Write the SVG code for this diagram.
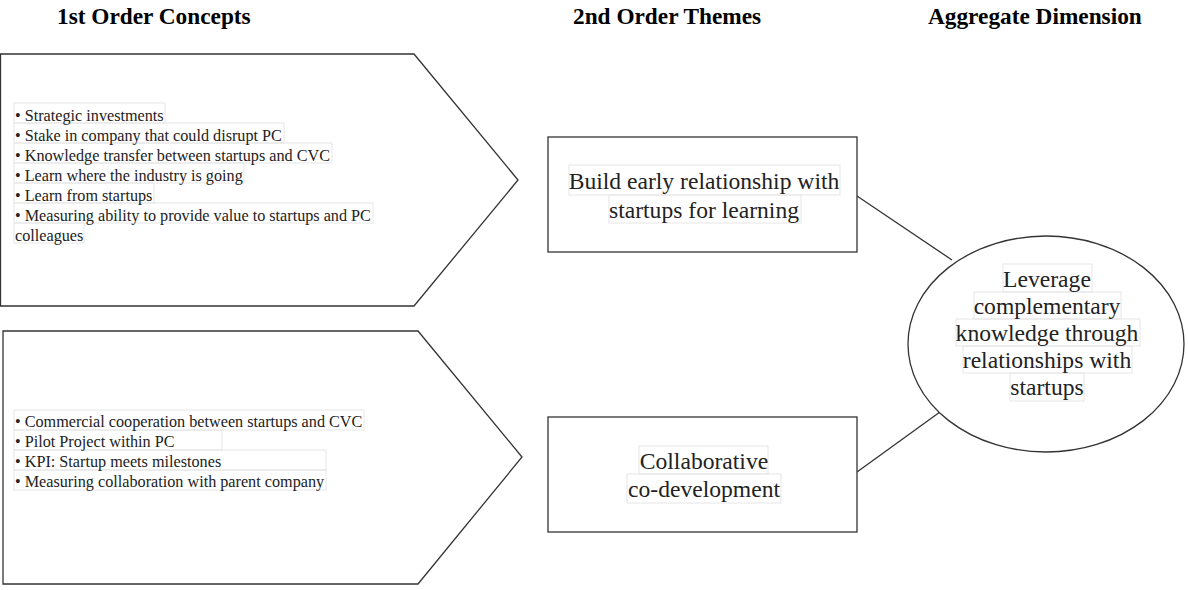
<svg xmlns="http://www.w3.org/2000/svg" width="1188" height="590" viewBox="0 0 1188 590">
  <style>
    .shape { fill: #ffffff; stroke: #333333; stroke-width: 1.3; }
    .edge { stroke: #333333; stroke-width: 1.3; fill: none; }
    .bg { fill: none; stroke: #e6e6e6; stroke-width: 1; }
    .head { font-family: "Liberation Serif", "Times New Roman", serif; font-weight: bold; font-size: 23.3px; fill: #000; }
    .list { font-family: "Liberation Serif", "Times New Roman", serif; font-size: 16.2px; fill: #222; }
    .label { font-family: "Liberation Serif", "Times New Roman", serif; font-size: 23.6px; fill: #222; text-anchor: middle; }
  </style>
  <rect width="1188" height="590" fill="#ffffff"/>

  <!-- column headings -->
  <g id="headings">
    <text class="head" x="57" y="24">1st Order Concepts</text>
    <text class="head" x="573" y="24">2nd Order Themes</text>
    <text class="head" x="928" y="24">Aggregate Dimension</text>
  </g>

  <!-- links from themes to the aggregate dimension -->
  <g id="connectors">
    <line class="edge" x1="857" y1="196" x2="952" y2="260"/>
    <line class="edge" x1="857" y1="472" x2="951" y2="404"/>
  </g>

  <g id="concepts-learning">
    <polygon class="shape" points="0.5,54 414,54 518,180 414,306 0.5,306"/>
    <rect class="bg" x="14" y="103" width="151" height="20"/>
    <rect class="bg" x="14" y="123" width="270" height="20"/>
    <rect class="bg" x="14" y="143" width="318" height="20"/>
    <rect class="bg" x="14" y="163" width="230" height="20"/>
    <rect class="bg" x="14" y="183" width="140" height="20"/>
    <rect class="bg" x="14" y="203" width="359" height="20"/>
    <rect class="bg" x="14" y="223" width="70" height="20"/>
    <text class="list" x="15" y="121">• Strategic investments</text>
    <text class="list" x="15" y="141">• Stake in company that could disrupt PC</text>
    <text class="list" x="15" y="161">• Knowledge transfer between startups and CVC</text>
    <text class="list" x="15" y="181">• Learn where the industry is going</text>
    <text class="list" x="15" y="201">• Learn from startups</text>
    <text class="list" x="15" y="221">• Measuring ability to provide value to startups and PC</text>
    <text class="list" x="15" y="241">colleagues</text>
  </g>

  <g id="concepts-codevelopment">
    <polygon class="shape" points="3,331 418,331 522,457 418,584 3,584"/>
    <rect class="bg" x="14" y="410" width="350" height="20"/>
    <rect class="bg" x="14" y="430" width="208" height="20"/>
    <rect class="bg" x="14" y="450" width="312" height="20"/>
    <rect class="bg" x="14" y="470" width="312" height="20"/>
    <text class="list" x="15" y="427">• Commercial cooperation between startups and CVC</text>
    <text class="list" x="15" y="447">• Pilot Project within PC</text>
    <text class="list" x="15" y="467">• KPI: Startup meets milestones</text>
    <text class="list" x="15" y="487">• Measuring collaboration with parent company</text>
  </g>

  <g id="theme-learning">
    <rect class="shape" x="548" y="137" width="309" height="115"/>
    <rect class="bg" x="569" y="165" width="271" height="30"/>
    <rect class="bg" x="609" y="195" width="192" height="28"/>
    <text class="label" x="704" y="189">Build early relationship with</text>
    <text class="label" x="704" y="218">startups for learning</text>
  </g>

  <g id="theme-codevelopment">
    <rect class="shape" x="548" y="417" width="309" height="115"/>
    <rect class="bg" x="639" y="446" width="129" height="28"/>
    <rect class="bg" x="627" y="474" width="154" height="29"/>
    <text class="label" x="704" y="469">Collaborative</text>
    <text class="label" x="704" y="497">co-development</text>
  </g>

  <g id="aggregate">
    <ellipse class="shape" cx="1046" cy="344" rx="138" ry="108"/>
    <rect class="bg" x="1003" y="264" width="89" height="28"/>
    <rect class="bg" x="974" y="292" width="147" height="27"/>
    <rect class="bg" x="956" y="319" width="184" height="27"/>
    <rect class="bg" x="963" y="346" width="169" height="27"/>
    <rect class="bg" x="1010" y="373" width="74" height="28"/>
    <text class="label" x="1047" y="287">Leverage</text>
    <text class="label" x="1047" y="314">complementary</text>
    <text class="label" x="1047" y="341">knowledge through</text>
    <text class="label" x="1047" y="368">relationships with</text>
    <text class="label" x="1047" y="395">startups</text>
  </g>
</svg>
